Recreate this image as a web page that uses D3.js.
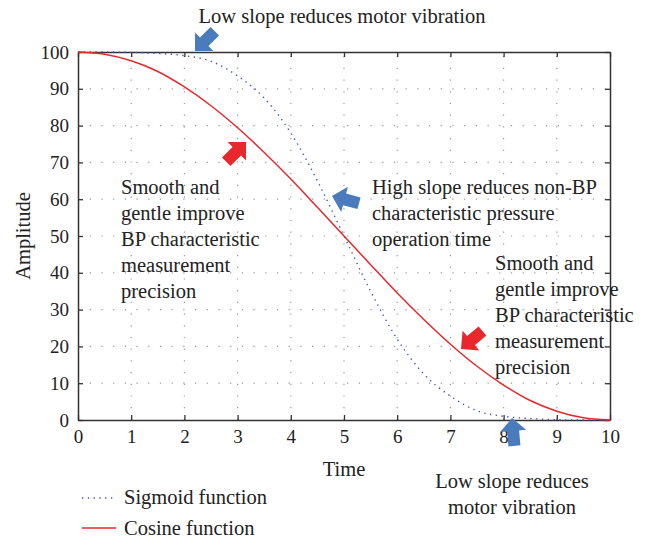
<!DOCTYPE html>
<html>
<head>
<meta charset="utf-8">
<script src="https://cdn.jsdelivr.net/npm/d3@7"></script>
<style>
  body { margin: 0; background: #fff; }
  svg text { font-family: "Liberation Serif", "DejaVu Serif", serif; fill: #222; }
</style>
</head>
<body>
<svg width="650" height="541"></svg>
<script>
// sample points on the time axis
var times = [0, 0.5, 1, 1.5, 2, 2.5, 3, 3.5, 4, 4.5, 5, 5.5, 6, 6.5, 7, 7.5, 8, 8.5, 9, 9.5, 10];
// values
var sigmoidValues = [100, 100, 99.9, 99.6, 99, 97.5, 93.5, 87.5, 78, 65, 50, 35, 22, 12.5, 6.5, 2.5, 1, 0.4, 0.1, 0, 0];
var cosineValues = [100, 99.4, 97.6, 94.7, 90.5, 85.4, 79.4, 72.7, 65.5, 57.8, 50, 42.2, 34.5, 27.3, 20.6, 14.6, 9.5, 5.3, 2.4, 0.6, 0];
var xTicks = [0, 1, 2, 3, 4, 5, 6, 7, 8, 9, 10];
var yTicks = [0, 10, 20, 30, 40, 50, 60, 70, 80, 90, 100];

var RED = '#e8282c', BLUE = '#3b4fc4', ARROW_BLUE = '#4a7cbd';
var FONT = 20.5;

var svg = d3.select('svg');
var plotLeft = 78, plotRight = 610, plotTop = 52, plotBottom = 420;

var x = d3.scaleLinear().domain([0, 10]).range([plotLeft, plotRight]);
var y = d3.scaleLinear().domain([0, 100]).range([plotBottom, plotTop]);

// dotted grid
var grid = svg.append('g').attr('stroke', '#999').attr('stroke-width', 1.2)
    .attr('stroke-dasharray', '1.2,10.5');
xTicks.slice(1, -1).forEach(function (t) {
    grid.append('line').attr('x1', x(t)).attr('x2', x(t)).attr('y1', plotBottom).attr('y2', plotTop);
});
yTicks.slice(1, -1).forEach(function (t) {
    grid.append('line').attr('x1', plotLeft).attr('x2', plotRight).attr('y1', y(t)).attr('y2', y(t));
});

// axes, ticks drawn inside, mirrored on top / right
function axisStyle(g) {
    g.select('.domain').attr('stroke', '#333').attr('stroke-width', 1.5);
    g.selectAll('.tick line').attr('stroke', '#333').attr('stroke-width', 1.3);
    g.selectAll('.tick text').attr('font-size', 19).attr('fill', '#222')
        .attr('font-family', '"Liberation Serif", serif');
}
svg.append('g').attr('transform', 'translate(0,' + plotBottom + ')')
    .call(d3.axisBottom(x).tickValues(xTicks).tickSizeInner(-5).tickSizeOuter(0).tickPadding(10))
    .call(axisStyle);
svg.append('g').attr('transform', 'translate(' + plotLeft + ',0)')
    .call(d3.axisLeft(y).tickValues(yTicks).tickSizeInner(-5).tickSizeOuter(0).tickPadding(9))
    .call(axisStyle);
svg.append('g').attr('transform', 'translate(0,' + plotTop + ')')
    .call(d3.axisTop(x).tickValues(xTicks).tickSizeInner(-5).tickSizeOuter(0).tickFormat(''))
    .call(axisStyle);
svg.append('g').attr('transform', 'translate(' + plotRight + ',0)')
    .call(d3.axisRight(y).tickValues(yTicks).tickSizeInner(-5).tickSizeOuter(0).tickFormat(''))
    .call(axisStyle);

// curves
var line = d3.line().curve(d3.curveMonotoneX)
    .x(function (d) { return x(d[0]); })
    .y(function (d) { return y(d[1]); });
svg.append('path').datum(d3.zip(times, sigmoidValues))
    .attr('d', line).attr('fill', 'none').attr('stroke', BLUE)
    .attr('stroke-width', 1.4).attr('stroke-dasharray', '1.3,4.5');
svg.append('path').datum(d3.zip(times, cosineValues))
    .attr('d', line).attr('fill', 'none').attr('stroke', RED).attr('stroke-width', 1.5);

// axis titles
svg.append('text').attr('x', x(5)).attr('y', 476).attr('text-anchor', 'middle')
    .attr('font-size', FONT).text('Time');
svg.append('text').attr('transform', 'translate(30,' + y(50) + ') rotate(-90)')
    .attr('text-anchor', 'middle').attr('font-size', FONT).text('Amplitude');

// annotations
function block(lines, px, py, anchor) {
    var t = svg.append('text').attr('font-size', FONT).attr('text-anchor', anchor || 'start');
    lines.forEach(function (s, i) {
        t.append('tspan').attr('x', px).attr('y', py + i * 26).text(s);
    });
}
block(['Low slope reduces motor vibration'], 342, 23, 'middle');
block(['Smooth and', 'gentle improve', 'BP characteristic', 'measurement', 'precision'], 121, 194);
block(['High slope reduces non-BP', 'characteristic pressure', 'operation time'], 372, 194);
block(['Smooth and', 'gentle improve', 'BP characteristic', 'measurement', 'precision'], 495, 270);
block(['Low slope reduces', 'motor vibration'], 512, 488, 'middle');

// block arrows: tip at (tx, ty), rotated by angle (degrees, 0 = pointing right)
var arrowShape = 'M0,0 L-13,-13 L-13,-6 L-28,-6 L-28,6 L-13,6 L-13,13 Z';
var arrows = [
    { tx: 195, ty: 51, a: 135, c: ARROW_BLUE },
    { tx: 246, ty: 142, a: -45, c: RED },
    { tx: 332, ty: 196, a: 195, c: ARROW_BLUE },
    { tx: 461, ty: 349, a: 140, c: RED },
    { tx: 512, ty: 418, a: -95, c: ARROW_BLUE }
];
svg.selectAll('path.arrow').data(arrows).enter().append('path')
    .attr('class', 'arrow').attr('d', arrowShape)
    .attr('fill', function (d) { return d.c; })
    .attr('transform', function (d) { return 'translate(' + d.tx + ',' + d.ty + ') rotate(' + d.a + ')'; });

// legend
var legend = svg.append('g');
legend.append('line').attr('x1', 82).attr('x2', 116).attr('y1', 498).attr('y2', 498)
    .attr('stroke', BLUE).attr('stroke-width', 1.3).attr('stroke-dasharray', '1.3,4.5');
legend.append('text').attr('x', 124).attr('y', 504).attr('font-size', FONT).text('Sigmoid function');
legend.append('line').attr('x1', 82).attr('x2', 116).attr('y1', 528).attr('y2', 528)
    .attr('stroke', RED).attr('stroke-width', 1.5);
legend.append('text').attr('x', 124).attr('y', 535).attr('font-size', FONT).text('Cosine function');
</script>
</body>
</html>
